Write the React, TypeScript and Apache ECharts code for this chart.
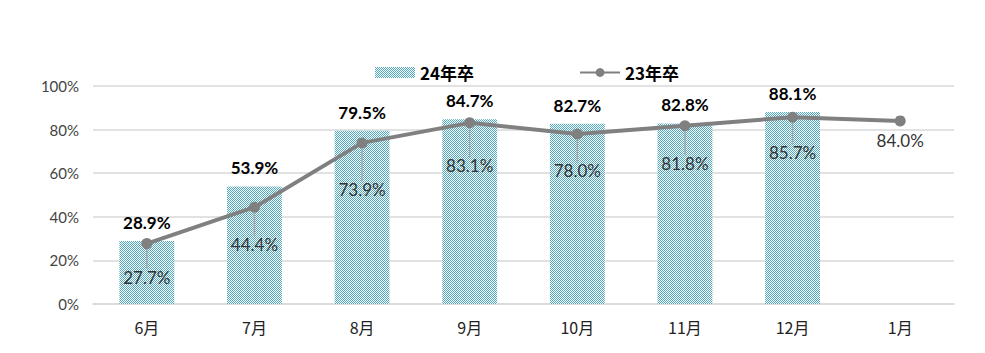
import React, { useEffect, useRef } from "react";
import * as echarts from "echarts";

const categories = ["6月", "7月", "8月", "9月", "10月", "11月", "12月", "1月"];
const bars24 = [28.9, 53.9, 79.5, 84.7, 82.7, 82.8, 88.1, null];
const line23 = [27.7, 44.4, 73.9, 83.1, 78.0, 81.8, 85.7, 84.0];
const yTicks = [0, 20, 40, 60, 80, 100];

const FONT = "Lato, sans-serif";
const CJK = "'Noto Sans CJK JP', sans-serif";

function makePattern() {
  const c = document.createElement("canvas");
  c.width = 2;
  c.height = 2;
  const ctx = c.getContext("2d")!;
  ctx.fillStyle = "#ffffff";
  ctx.fillRect(0, 0, 2, 2);
  ctx.fillStyle = "#4fa9bf";
  ctx.fillRect(0, 0, 1, 1);
  ctx.fillRect(1, 1, 1, 1);
  return c;
}

export default function App() {
  const ref = useRef<HTMLDivElement>(null);
  useEffect(() => {
    if (!ref.current) return;
    const chart = echarts.init(ref.current, undefined, { renderer: "svg" });
    const last = line23.length - 1;
    // vertical label shifts for the line labels (style only)
    const labelShift = [14, 17, 27, 23, 17, 18, 15, 0];
    const lineData = line23.map((v, i) =>
      i === last ? { value: v, labelLine: { show: false } } : { value: v }
    );
    chart.setOption({
      animation: false,
      backgroundColor: "#ffffff",
      textStyle: { fontFamily: FONT },
      legend: {
        top: 51,
        left: 362,
        itemGap: 105,
        itemWidth: 40,
        itemHeight: 11,
        textStyle: { fontSize: 17, fontWeight: "bold", color: "#000", fontFamily: CJK },
        data: [
          { name: "24年卒", icon: "rect" },
          { name: "23年卒" },
        ],
      },
      grid: { left: 85, right: 23, top: 78, bottom: 49 },
      xAxis: {
        type: "category",
        data: categories,
        axisTick: { show: false },
        axisLine: { lineStyle: { color: "#d9d9d9", width: 1.5 } },
        axisLabel: { color: "#222", fontSize: 16, margin: 15, fontFamily: CJK },
      },
      yAxis: {
        type: "value",
        min: yTicks[0],
        max: yTicks[yTicks.length - 1],
        interval: 20,
        axisLabel: { formatter: "{value}%", color: "#444", fontSize: 15, margin: 14, fontFamily: FONT },
        splitLine: { lineStyle: { color: "#d9d9d9", width: 1.5 } },
        axisLine: { show: false },
        axisTick: { show: false },
      },
      series: [
        {
          name: "24年卒",
          type: "bar",
          data: bars24,
          barWidth: "51%",
          itemStyle: {
            color: { image: makePattern(), repeat: "repeat" },
          },
          label: {
            show: true,
            position: "top",
            distance: 10,
            formatter: (p: any) => p.value.toFixed(1) + "%",
            fontSize: 17,
            fontWeight: "bold",
            color: "#000",
            fontFamily: FONT,
          },
        },
        {
          name: "23年卒",
          type: "line",
          data: lineData,
          symbol: "circle",
          symbolSize: 11,
          lineStyle: { color: "#808080", width: 4 },
          itemStyle: { color: "#808080" },
          label: {
            show: true,
            position: "bottom",
            distance: 6,
            formatter: (p: any) => p.value.toFixed(1) + "%",
            fontSize: 17,
            color: "#333",
            fontFamily: FONT,
          },
          labelLayout: (params: any) => ({ dy: labelShift[params.dataIndex] || 0 }),
          labelLine: { show: true, lineStyle: { color: "#a6a6a6", width: 1.5 } },
          z: 3,
        },
      ],
    });
    return () => chart.dispose();
  }, []);
  return <div ref={ref} style={{ width: 969, height: 345 }} />;
}
